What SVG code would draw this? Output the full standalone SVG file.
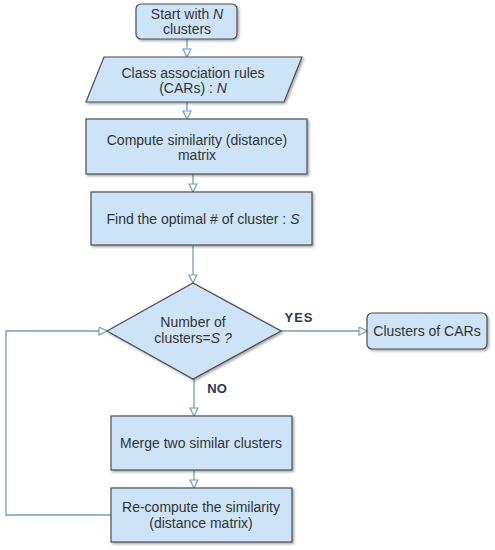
<svg xmlns="http://www.w3.org/2000/svg" width="495" height="550" viewBox="0 0 495 550">
<defs>
<style>
.n{fill:#cde4f8;stroke:#4d4d4d;stroke-width:1.2;filter:url(#sh)}
.t{font-family:"Liberation Sans",Arial,sans-serif;font-size:14px;fill:#333;text-anchor:middle}
.l{font-family:"Liberation Sans",Arial,sans-serif;font-size:13px;font-weight:bold;fill:#2e3a4a;text-anchor:middle}
.c{fill:none;stroke:#6f9fc2;stroke-width:1.3}
</style>
<filter id="sh" x="-10%" y="-10%" width="130%" height="140%">
<feDropShadow dx="1.5" dy="1.5" stdDeviation="1.2" flood-color="#000" flood-opacity="0.35"/>
</filter>
<marker id="ah" markerWidth="10" markerHeight="10" refX="9" refY="4.5" orient="auto" markerUnits="userSpaceOnUse">
<path d="M1,0.5 L9,4.5 L1,8.5 Z" fill="#fff" stroke="#6f9fc2" stroke-width="1.2"/>
</marker>
</defs>
<rect width="495" height="550" fill="#fff"/>
<g id="connectors">
<path class="c" d="M187,39 V57" marker-end="url(#ah)"/>
<path class="c" d="M187,102 V119" marker-end="url(#ah)"/>
<path class="c" d="M193,174 V192" marker-end="url(#ah)"/>
<path class="c" d="M193,245 V283" marker-end="url(#ah)"/>
<path class="c" d="M281,331 H367" marker-end="url(#ah)"/>
<path class="c" d="M194,379 V416" marker-end="url(#ah)"/>
<path class="c" d="M194,470 V488" marker-end="url(#ah)"/>
<path class="c" d="M111,515 H6 V331 H107" marker-end="url(#ah)"/>
<text class="l" x="299" y="322" letter-spacing="1">YES</text>
<text class="l" x="217" y="393">NO</text>
</g>
<g id="start">
<rect class="n" x="136" y="4" width="101" height="35" rx="5"/>
<text class="t" x="187" y="19" font-size="12.5">Start with <tspan font-style="italic">N</tspan></text>
<text class="t" x="187" y="34" font-size="12.5">clusters</text>
</g>
<g id="cars">
<polygon class="n" points="104,57 302,57 284,102 86,102"/>
<text class="t" x="193" y="78">Class association rules</text>
<text class="t" x="193" y="93">(CARs) : <tspan font-style="italic">N</tspan></text>
</g>
<g id="compute">
<rect class="n" x="86" y="119" width="221" height="55"/>
<text class="t" x="197" y="145">Compute similarity (distance)</text>
<text class="t" x="197" y="160">matrix</text>
</g>
<g id="find">
<rect class="n" x="91" y="192" width="221" height="53"/>
<text class="t" x="203" y="224" font-size="13.6">Find the optimal # of cluster : <tspan font-style="italic">S</tspan></text>
</g>
<g id="decision">
<polygon class="n" points="193,283 281,331 193,379 107,331"/>
<text class="t" x="193" y="327">Number of</text>
<text class="t" x="193" y="343">clusters=<tspan font-style="italic">S ?</tspan></text>
</g>
<g id="result">
<rect class="n" x="367" y="313" width="120" height="36" rx="5"/>
<text class="t" x="427" y="336" font-size="13">Clusters of CARs</text>
</g>
<g id="merge">
<rect class="n" x="111" y="416" width="181" height="54"/>
<text class="t" x="201" y="448">Merge two similar clusters</text>
</g>
<g id="recompute">
<rect class="n" x="111" y="488" width="181" height="54"/>
<text class="t" x="201" y="512">Re-compute the similarity</text>
<text class="t" x="201" y="528">(distance matrix)</text>
</g>
</svg>
